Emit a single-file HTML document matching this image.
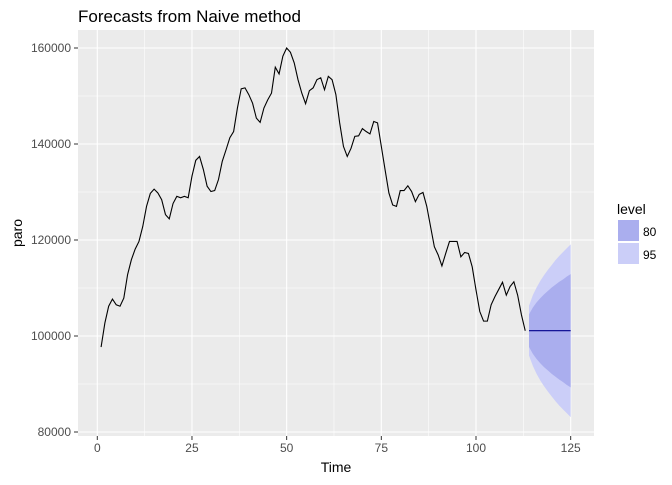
<!DOCTYPE html>
<html><head><meta charset="utf-8"><style>
body{margin:0;background:#fff;width:672px;height:480px;overflow:hidden}
svg{font-family:"Liberation Sans",sans-serif}
</style></head><body>
<svg id="c" width="672" height="480">
<rect x="0" y="0" width="672" height="480" fill="#fff"/>
<rect id="panel" x="78" y="30" width="516" height="406" fill="#ebebeb"/>
<g id="grid"></g><g id="bands"></g><g id="lines"></g><g id="axes"></g>
<text x="78" y="22" font-size="17" fill="#000">Forecasts from Naive method</text>
<text x="336" y="472" font-size="14" text-anchor="middle" fill="#000">Time</text>
<text transform="translate(22,233) rotate(-90)" font-size="14" text-anchor="middle" fill="#000">paro</text>
<g>
<text x="617" y="214" font-size="14" fill="#000">level</text>
<rect x="618" y="220" width="21" height="21" fill="#aaaeee"/>
<text x="643" y="236" font-size="12" fill="#000">80</text>
<rect x="618" y="243" width="21" height="21" fill="#cbcef8"/>
<text x="643" y="259" font-size="12" fill="#000">95</text>
</g>
</svg>
<script>
const series=[97.7,102.7,106.2,107.7,106.5,106.2,107.9,112.8,115.9,118.1,119.7,122.8,127,129.7,130.6,129.8,128.4,125.3,124.4,127.6,129.1,128.8,129.1,128.8,133.3,136.6,137.4,134.7,131.2,130.1,130.3,132.6,136.4,138.8,141.3,142.6,147.5,151.5,151.7,150.3,148.5,145.4,144.5,147.5,149.2,150.6,156,154.6,158.3,160,159.1,156.9,153.4,150.6,148.4,151.1,151.7,153.4,153.8,151.3,154.1,153.4,150.3,144.4,139.5,137.4,139.1,141.6,141.7,143.2,142.6,142.1,144.7,144.4,139.5,134.6,129.8,127.3,127,130.3,130.3,131.3,130.1,128,129.5,129.9,127,122.8,118.6,116.9,114.6,117.2,119.7,119.7,119.7,116.5,117.4,117.2,114.4,109.6,105.1,103.1,103.1,106.5,108.2,109.7,111.2,108.5,110.3,111.3,108.5,104.4,101.1];
const fcTimes=[114,115,116,117,118,119,120,121,122,123,124,125];
const pointFc=[101.1,101.1,101.1,101.1,101.1,101.1,101.1,101.1,101.1,101.1,101.1,101.1];
const up80=[104.5,105.9,107.0,107.9,108.7,109.4,110.1,110.7,111.3,111.8,112.4,112.9];
const lo80=[97.7,96.3,95.2,94.3,93.5,92.8,92.1,91.5,90.9,90.4,89.8,89.3];
const up95=[106.3,108.5,110.1,111.5,112.7,113.8,114.8,115.8,116.7,117.5,118.3,119.1];
const lo95=[95.9,93.8,92.1,90.7,89.5,88.4,87.4,86.4,85.5,84.7,83.9,83.1];
const xTicks=[0,25,50,75,100,125];
const yTicks=[80000,100000,120000,140000,160000];
const NS='http://www.w3.org/2000/svg';
const X=t=>97.3+t*3.787;
const Y=v=>432-(v-80)*4.8;
function el(tag,attrs,parent){const e=document.createElementNS(NS,tag);for(const k in attrs)e.setAttribute(k,attrs[k]);document.getElementById(parent).appendChild(e);return e;}
// grid
for(let i=0;i<xTicks.length;i++){
 const g=el('line',{x1:X(xTicks[i]),x2:X(xTicks[i]),y1:30,y2:436,stroke:'#fff','stroke-width':1.1},'grid');
 
 
 if(i<xTicks.length-1){const m=(xTicks[i]+xTicks[i+1])/2;
 const g2=el('line',{x1:X(m),x2:X(m),y1:30,y2:436,stroke:'#fff','stroke-width':0.55},'grid');
 
 }
 const t=el('line',{x1:X(xTicks[i]),x2:X(xTicks[i]),y1:436,y2:440,stroke:'#333'},'axes');
 
 
 const l=el('text',{x:X(xTicks[i]),y:452,'font-size':12,fill:'#4d4d4d','text-anchor':'middle'},'axes');l.textContent=xTicks[i];
 
 
}
for(let i=0;i<yTicks.length;i++){
 const v=yTicks[i]/1000;
 const g=el('line',{x1:78,x2:594,y1:Y(v),y2:Y(v),stroke:'#fff','stroke-width':1.1},'grid');
 
 
 if(i<yTicks.length-1){const m=v+10;
 const g2=el('line',{x1:78,x2:594,y1:Y(m),y2:Y(m),stroke:'#fff','stroke-width':0.55},'grid');
 
 }
 const t=el('line',{x1:74,x2:78,y1:Y(v),y2:Y(v),stroke:'#333'},'axes');
 
 
 const l=el('text',{x:71,y:Y(v)+4,'font-size':12,fill:'#4d4d4d','text-anchor':'end'},'axes');l.textContent=yTicks[i];
 
 
}
function band(up,lo,fill,name){
 let pts=fcTimes.map((t,i)=>X(t)+','+Y(up[i]));
 pts=pts.concat(fcTimes.map((t,i)=>X(t)+','+Y(lo[i])).reverse());
 const p=el('polygon',{points:pts.join(' '),fill:fill},'bands');
 
 
}
band(up95,lo95,'#cbcef8','band-95');
band(up80,lo80,'#aaaeee','band-80');
const sp=el('polyline',{points:series.map((v,i)=>X(i+1)+','+Y(v)).join(' '),fill:'none',stroke:'#000','stroke-width':1.1},'lines');


const fp=el('polyline',{points:fcTimes.map((t,i)=>X(t)+','+Y(pointFc[i])).join(' '),fill:'none',stroke:'#00008b','stroke-width':1.1},'lines');


</script>
</body></html>
